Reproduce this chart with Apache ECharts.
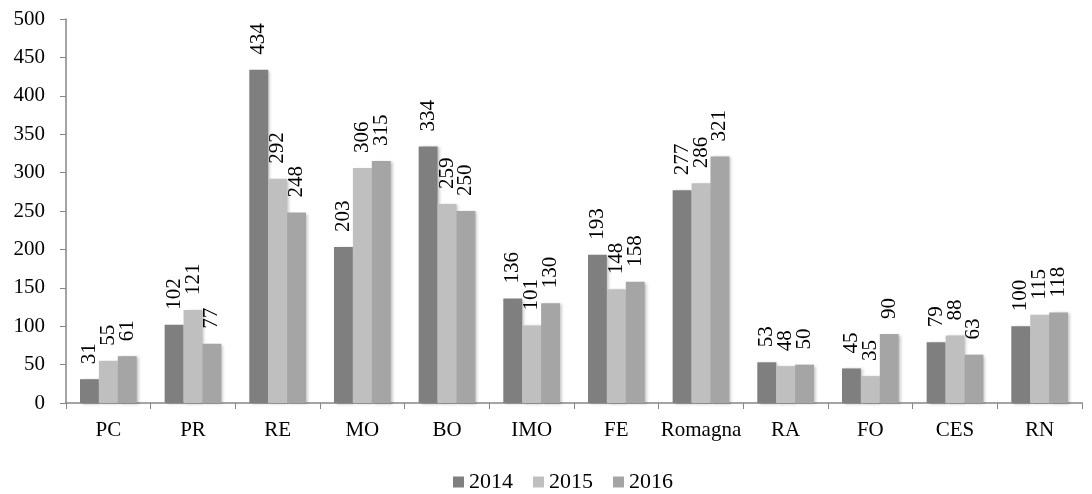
<!DOCTYPE html>
<html><head><meta charset="utf-8">
<script src="https://cdn.jsdelivr.net/npm/echarts@6/dist/echarts.min.js"></script>
<style>html,body{margin:0;padding:0;background:#fff}#c{width:1092px;height:494px}</style>
</head><body><div id="c"></div>
<script>
const categories = ['PC','PR','RE','MO','BO','IMO','FE','Romagna','RA','FO','CES','RN'];
const years = ['2014','2015','2016'];
const v2014 = [31,102,434,203,334,136,193,277,53,45,79,100];
const v2015 = [55,121,292,306,259,101,148,286,48,35,88,115];
const v2016 = [61,77,248,315,250,130,158,321,50,90,63,118];
const yTicks = {min:0, max:500, interval:50};
const colors = ['#7f7f7f','#bfbfbf','#a5a5a5'];
const font = '"Liberation Serif", "Times New Roman", serif';
const chart = echarts.init(document.getElementById('c'));
const mk = (name, data, color) => ({
  name, type:'bar', data, barGap:'0%', barCategoryGap:'33%',
  itemStyle:{color, shadowColor:'rgba(0,0,0,0.25)', shadowBlur:3, shadowOffsetX:2, shadowOffsetY:1},
  label:{show:true, position:'top', rotate:90, align:'left', verticalAlign:'middle', distance:15,
    fontFamily:font, fontSize:21, color:'#000'}
});
chart.setOption({
  animation:false,
  textStyle:{fontFamily:font},
  grid:{left:66, right:10, top:19, bottom:91, containLabel:false},
  legend:{top:466, left:448, itemWidth:11, itemHeight:11, itemGap:20, icon:'rect',
    textStyle:{fontFamily:font, fontSize:22, color:'#000'}, data:years},
  xAxis:{type:'category', data:categories,
    axisLine:{lineStyle:{color:'#868686', width:1.5}},
    axisTick:{show:true, length:6, lineStyle:{color:'#868686'}},
    axisLabel:{interval:0, fontFamily:font, fontSize:21, color:'#000', margin:17}},
  yAxis:{type:'value', min:yTicks.min, max:yTicks.max, interval:yTicks.interval,
    splitLine:{show:false},
    axisLine:{show:true, lineStyle:{color:'#868686', width:1.5}},
    axisTick:{show:true, length:6, lineStyle:{color:'#868686'}},
    axisLabel:{fontFamily:font, fontSize:21, color:'#000', margin:21}},
  series:[mk(years[0], v2014, colors[0]), mk(years[1], v2015, colors[1]), mk(years[2], v2016, colors[2])]
});
</script></body></html>
